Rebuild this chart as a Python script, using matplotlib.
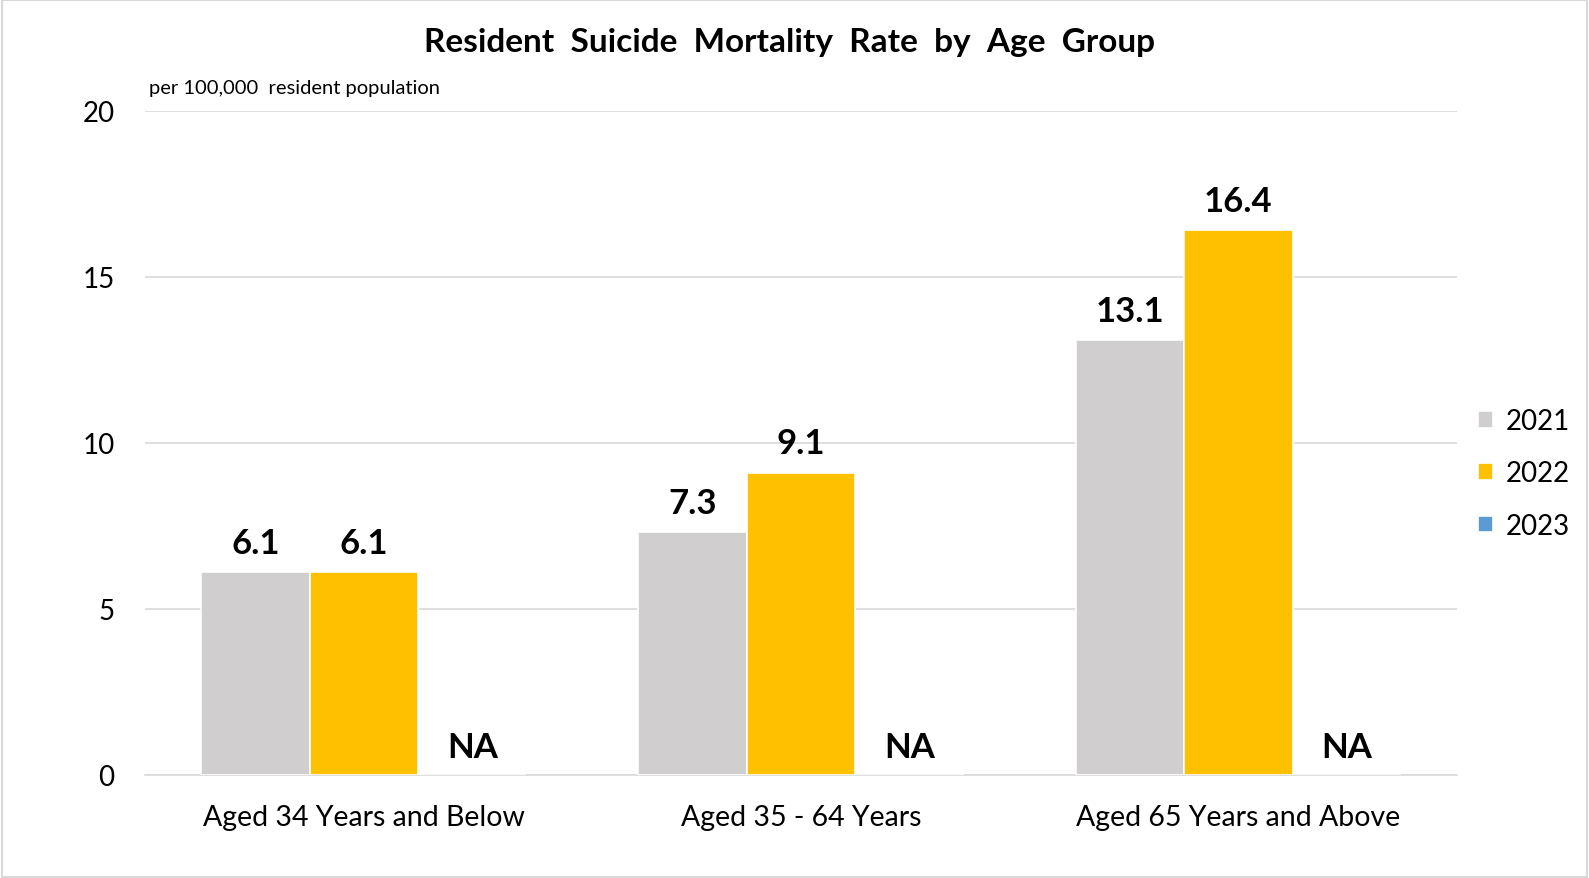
import matplotlib.pyplot as plt
import numpy as np
from matplotlib.patches import Rectangle

plt.rcParams['font.family'] = ['Lato', 'DejaVu Sans']

groups = ['Aged 34 Years and Below', 'Aged 35 - 64 Years', 'Aged 65 Years and Above']
years = ['2021', '2022', '2023']
rate_2021 = [6.1, 7.3, 13.1]
rate_2022 = [6.1, 9.1, 16.4]
rate_2023 = [None, None, None]   # not available
colors = ['#D0CECE', '#FFC000', '#5B9BD5']

fig = plt.figure(figsize=(15.89, 8.79), dpi=100)
ax = fig.add_axes([0.0913, 0.1172, 0.8257, 0.7558])

x = np.arange(len(groups))
w = 0.248
series = [rate_2021, rate_2022, rate_2023]
for i, (yr, vals, c) in enumerate(zip(years, series, colors)):
    pos = x + (i - 1) * w
    hv = [v if v is not None else 0 for v in vals]
    ax.bar(pos, hv, width=w, color=c, edgecolor='white', linewidth=1.2, label=yr, zorder=3)
    for p, v in zip(pos, vals):
        if v is None:
            ax.text(p, 0.35, 'NA', ha='center', va='bottom', fontsize=25, fontweight='bold')
        else:
            ax.text(p, v + 0.4, f'{v:.1f}', ha='center', va='bottom', fontsize=25, fontweight='bold')

ax.set_xlim(-0.5, 2.5)
ax.set_ylim(0, 20)
ax.set_yticks([0, 5, 10, 15, 20])
ax.set_xticks(x)
ax.set_xticklabels(groups, fontsize=20.5)
ax.tick_params(axis='y', labelsize=20, length=0, pad=22)
ax.tick_params(axis='x', length=0, pad=21)
ax.grid(axis='y', color='#D9D9D9', linewidth=1.2, zorder=0)
for s in ['top', 'right', 'left']:
    ax.spines[s].set_visible(False)
ax.spines['bottom'].set_color('#D9D9D9')
ax.spines['bottom'].set_linewidth(1.2)

fig.text(0.497, 0.952, 'Resident  Suicide  Mortality  Rate  by  Age  Group', ha='center', va='center',
         fontsize=24, fontweight='bold')
fig.text(0.094, 0.899, 'per 100,000  resident population', ha='left', va='center', fontsize=14.5)

leg = ax.legend(loc='center left', bbox_to_anchor=(0.997, 0.454), frameon=False, fontsize=20,
                handlelength=0.55, handleheight=0.55, handletextpad=0.45, labelspacing=0.95)

fig.add_artist(Rectangle((0.001, 0.001), 0.998, 0.998, transform=fig.transFigure,
                         fill=False, edgecolor='#D9D9D9', linewidth=1.5))

fig.savefig('out.png', dpi=100)
